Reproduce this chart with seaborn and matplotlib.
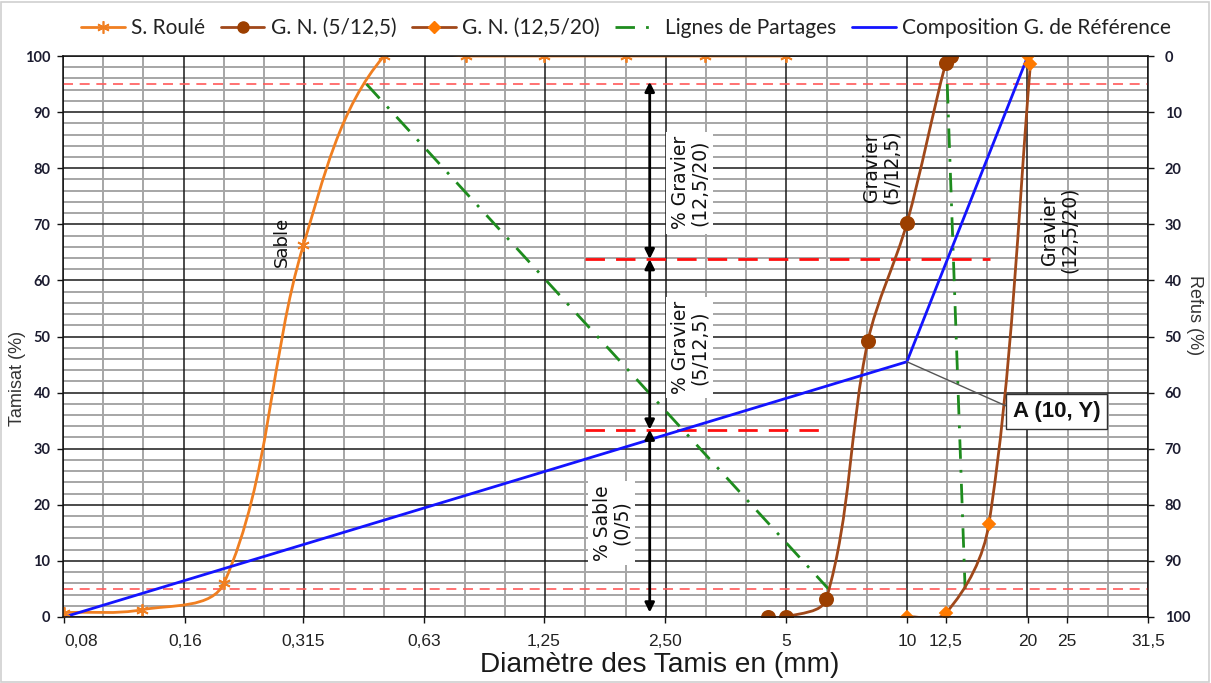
import numpy as np
import pandas as pd
import matplotlib
matplotlib.use("Agg")
import matplotlib.pyplot as plt
import seaborn as sns
from matplotlib.path import Path
from matplotlib.patches import PathPatch, Rectangle
from matplotlib.lines import Line2D

sns.set_theme(style="white")
plt.rcParams['font.family'] = ['Liberation Sans', 'DejaVu Sans']

# Sieve openings (mm) and cumulative passing (%)
sable_d = [0.08, 0.125, 0.2, 0.315, 0.5, 0.8, 1.25, 2, 3.15, 5]
sable_p = [0.8, 1.3, 6.1, 66.3, 100, 100, 100, 100, 100, 100]

g5_d = [4.5, 5, 6.3, 8, 10, 12.5, 12.9]
g5_p = [0, 0, 3.2, 49.2, 70.2, 98.8, 100]

g12_d = [10, 12.5, 16, 20.3, 20]
g12_p = [0, 0.7, 16.6, 98.6, 100]

# Reference grading (O - A - B)
ref_d = [0.08, 10, 20]
ref_p = [0, 45.5, 100]

# Partition lines (95 % of one curve to 5 % of the next)
part1_d = [0.452, 6.38]
part1_p = [95, 5]
part2_d = [12.6, 13.96]
part2_p = [95, 5]

limit_levels = [5, 95]
split_levels = [33.4, 63.8]
split_ends_d = [6.35, 16.1]

tick_d = [0.08, 0.16, 0.315, 0.63, 1.25, 2.5, 5, 10, 12.5, 20, 25]
tick_labels = ['0,08', '0,16', '0,315', '0,63', '1,25', '2,50', '5', '10',
               '12,5', '20', '25', '31,5']


def module(d):
    """AFNOR sieve module of an opening given in mm."""
    return 10 * np.log10(np.asarray(d, dtype=float) * 1000) + 1


M_MIN, M_MAX = 20, 47

ORANGE = '#F07F21'
BROWN = '#A0481A'
DIAMOND = '#FF7A00'
GREEN = '#1E8C1E'
BLUE = '#1414FF'
ROT_FONT = ['DejaVu Sans']

fig = plt.figure(figsize=(12.11, 6.83), dpi=100)
ax = fig.add_axes([63 / 1211, 1 - 617 / 683, (1148 - 63) / 1211, (617 - 56) / 683])
ax.set_xlim(M_MIN, M_MAX)
ax.set_ylim(0, 100)

# grid: one line per module, heavier every three modules; 2 % / 10 % horizontally
for m in range(M_MIN, M_MAX + 1):
    major = (m - M_MIN) % 3 == 0
    ax.axvline(m, color='#1a1a1a' if major else '#a6a6a6',
               lw=1.1 if major else 1.4, zorder=1 if major else 0.5)
for p in range(0, 101, 2):
    major = p % 10 == 0
    ax.axhline(p, color='#1a1a1a' if major else '#a6a6a6',
               lw=1.1 if major else 1.4, zorder=1 if major else 0.5)

# limits 5 % / 95 %
for lv in limit_levels:
    ax.axhline(lv, color='#FF5A5A', lw=1.2, dashes=(6, 4), zorder=2)
# levels of the partition
for lv, de in zip(split_levels, split_ends_d):
    ax.plot([33, module(de)], [lv, lv], color='#FF1010', lw=2, dashes=(7, 4), zorder=2)


def smooth_path(xs, ys, sx=40.2, sy=5.61, k=1 / 3):
    P = np.column_stack([np.asarray(xs) * sx, np.asarray(ys) * sy])
    n = len(P)
    tang = []
    for i in range(n):
        t = P[min(i + 1, n - 1)] - P[max(i - 1, 0)]
        nr = np.hypot(*t)
        tang.append(t / nr if nr > 0 else t)
    verts = [P[0]]
    codes = [Path.MOVETO]
    for i in range(n - 1):
        d = np.hypot(*(P[i + 1] - P[i]))
        verts += [P[i] + tang[i] * d * k, P[i + 1] - tang[i + 1] * d * k, P[i + 1]]
        codes += [Path.CURVE4] * 3
    return Path(np.array(verts) / [sx, sy], codes)


curves = [
    (sable_d, sable_p, ORANGE, (6, 2, 0), ORANGE, 9, 'S. Roulé'),
    (g5_d, g5_p, BROWN, 'o', '#9C3F00', 9.5, 'G. N. (5/12,5)'),
    (g12_d, g12_p, BROWN, 'D', DIAMOND, 6.5, 'G. N. (12,5/20)'),
]
for d, p, lc, mk, mc, ms, name in curves:
    x = module(d)
    ax.add_patch(PathPatch(smooth_path(x, p), facecolor='none', edgecolor=lc,
                           lw=2, zorder=4, capstyle='round'))
    df = pd.DataFrame({'m': x, 'p': p})
    sns.lineplot(data=df, x='m', y='p', ax=ax, estimator=None, sort=False,
                 linestyle='none', marker=mk, markersize=ms, color=mc,
                 markeredgecolor=mc, markeredgewidth=1.3, zorder=5)

# partition lines
for d, p in [(part1_d, part1_p), (part2_d, part2_p)]:
    df = pd.DataFrame({'m': module(d), 'p': p})
    sns.lineplot(data=df, x='m', y='p', ax=ax, estimator=None, sort=False,
                 color=GREEN, lw=2, dashes=False, zorder=3)
for l in ax.lines[-2:]:
    l.set_dashes((7, 4, 1, 4))

# reference grading
df_ref = pd.DataFrame({'m': module(ref_d), 'p': ref_p})
sns.lineplot(data=df_ref, x='m', y='p', ax=ax, estimator=None, sort=False,
             color=BLUE, lw=2, zorder=4)

# proportion arrows
xa = 34.6
arrow_levels = [0.8, split_levels[0], split_levels[1], 95.4]
for lo, hi in zip(arrow_levels[:-1], arrow_levels[1:]):
    ax.annotate('', xy=(xa, hi), xytext=(xa, lo),
                arrowprops=dict(arrowstyle='<|-|>', color='black', lw=2,
                                mutation_scale=14, shrinkA=0, shrinkB=0),
                zorder=6)

box = dict(facecolor='white', edgecolor='none', pad=3)
for xm, yp, txt in [(35.6, 77.4, '% Gravier\n(12,5/20)'),
                    (35.6, 48.0, '% Gravier\n(5/12,5)'),
                    (33.66, 16.8, '% Sable\n(0/5)')]:
    ax.text(xm, yp, txt, rotation=90, ha='center', va='center', fontsize=13.5,
            linespacing=1.05, bbox=box, zorder=7, color='#111', family=ROT_FONT)
ax.text(25.45, 66.8, 'Sable', rotation=90, ha='center', va='center',
        fontsize=13, color='#111', zorder=7, family=ROT_FONT)
ax.text(40.37, 80.2, 'Gravier\n(5/12,5)', rotation=90, ha='center', va='center',
        fontsize=13.5, linespacing=1.05, color='#111', zorder=7, family=ROT_FONT)
ax.text(44.8, 69.0, 'Gravier\n(12,5/20)', rotation=90, ha='center', va='center',
        fontsize=13.5, linespacing=1.05, color='#111', zorder=7, family=ROT_FONT)

# point A
ax.annotate('A (10, Y)', xy=(module(ref_d[1]), ref_p[1]), xytext=(44.73, 36.7),
            fontsize=16, fontweight='bold', ha='center', va='center', color='#111',
            bbox=dict(facecolor='white', edgecolor='#333', lw=1, pad=5),
            arrowprops=dict(arrowstyle='-', color='#555', lw=1, shrinkA=0, shrinkB=0,
                            relpos=(0, 0.6)),
            zorder=8)

# axes decorations
ax.set_xticks(list(module(tick_d)) + [M_MAX])
ax.set_xticklabels(tick_labels, fontsize=12.5, color='#222')
ax.get_xticklabels()[0].set_ha('left')
ax.set_yticks(range(0, 101, 10))
ax.set_yticklabels([str(v) for v in range(0, 101, 10)], fontsize=10.5,
                   fontweight='bold', color='#1c1c30', family=['Lato', 'DejaVu Sans'])
ax.tick_params(axis='both', which='major', length=4, width=1, color='#111',
               direction='out', pad=5, bottom=True, left=True)
ax.tick_params(axis='x', pad=8)
ax.set_xlabel('')
ax.set_ylabel('')
for s in ax.spines.values():
    s.set_color('#111')
    s.set_linewidth(1.1)
    s.set_zorder(9)

ax2 = ax.twinx()
ax2.set_ylim(100, 0)
ax2.set_yticks(range(0, 101, 10))
ax2.set_yticklabels([str(v) for v in range(0, 101, 10)], fontsize=10.5,
                    fontweight='bold', color='#1c1c30', family=['Lato', 'DejaVu Sans'])
ax2.tick_params(axis='y', length=4, width=1, color='#111', direction='out', pad=8, right=True)
ax2.grid(False)
for s in ax2.spines.values():
    s.set_visible(False)

fig.text(660 / 1211, 1 - 665 / 683, 'Diamètre des Tamis en (mm)', ha='center', va='center',
         fontsize=20.2, color='#1a1a1a')
fig.text(18 / 1211, 1 - 378 / 683, 'Tamisat (%)', rotation=90, ha='center', va='center',
         fontsize=13, color='#333')
fig.text(1195 / 1211, 1 - 315 / 683, 'Refus (%)', rotation=270, ha='center', va='center',
         fontsize=13, color='#333')

handles = [
    Line2D([], [], color=ORANGE, lw=2, marker=(6, 2, 0), markersize=9,
           markeredgecolor=ORANGE, markeredgewidth=1.2),
    Line2D([], [], color=BROWN, lw=2, marker='o', markersize=8,
           markerfacecolor='#9C3F00', markeredgecolor='#9C3F00'),
    Line2D([], [], color=BROWN, lw=2, marker='D', markersize=6,
           markerfacecolor=DIAMOND, markeredgecolor=DIAMOND),
    Line2D([], [], color=GREEN, lw=2, dashes=(7, 4, 1, 4)),
    Line2D([], [], color=BLUE, lw=2),
]
labels = ['S. Roulé', 'G. N. (5/12,5)', 'G. N. (12,5/20)', 'Lignes de Partages',
          'Composition G. de Référence']
fig.legend(handles, labels, loc='center', bbox_to_anchor=(626 / 1211, 1 - 28 / 683),
           ncol=5, frameon=False, handlelength=2.1, handletextpad=0.3,
           columnspacing=0.75, prop={'family': ['Lato', 'DejaVu Sans'], 'size': 15},
           labelcolor='#222')

fig.patches.append(Rectangle((1 / 1211, 1 / 683), 1 - 3 / 1211, 1 - 3 / 683,
                             transform=fig.transFigure, fill=False,
                             edgecolor='#d0d0d0', lw=1.2))

fig.savefig('out.png', dpi=100, facecolor='white')
